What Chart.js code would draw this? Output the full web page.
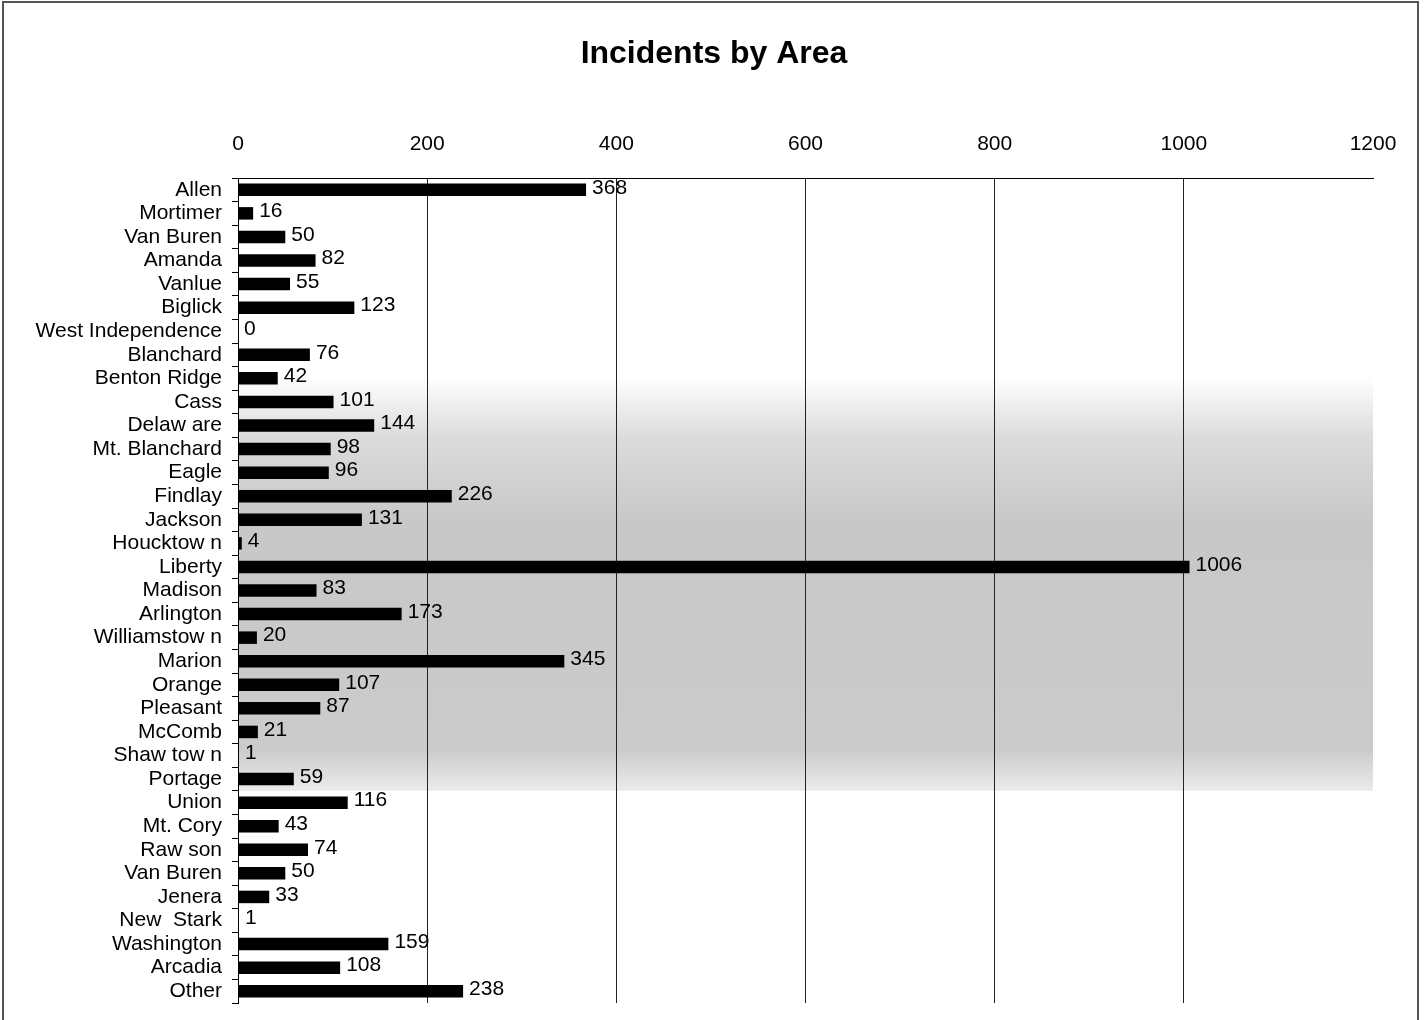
<!DOCTYPE html>
<html>
<head>
<meta charset="utf-8">
<title>Incidents by Area</title>
<script src="https://cdn.jsdelivr.net/npm/chart.js@4"></script>
<style>
    html, body { margin: 0; padding: 0; background: #fff; }
    #wrap { width: 1424px; height: 1020px; position: relative; }
</style>
</head>
<body>
<div id="wrap"><canvas id="chart" width="1424" height="1020"></canvas></div>
<script>
// Areas, top to bottom as in the chart
const areas = [
    'Allen', 'Mortimer', 'Van Buren', 'Amanda', 'Vanlue', 'Biglick',
    'West Independence', 'Blanchard', 'Benton Ridge', 'Cass', 'Delaw are',
    'Mt. Blanchard', 'Eagle', 'Findlay', 'Jackson', 'Houcktow n', 'Liberty',
    'Madison', 'Arlington', 'Williamstow n', 'Marion', 'Orange', 'Pleasant',
    'McComb', 'Shaw tow n', 'Portage', 'Union', 'Mt. Cory', 'Raw son',
    'Van Buren', 'Jenera', 'New  Stark', 'Washington', 'Arcadia', 'Other'
];

const incidents = [
    368, 16, 50, 82, 55, 123,
    0, 76, 42, 101, 144,
    98, 96, 226, 131, 4, 1006,
    83, 173, 20, 345, 107, 87,
    21, 1, 59, 116, 43, 74,
    50, 33, 1, 159, 108, 238
];

const xTicks = [0, 200, 400, 600, 800, 1000, 1200];

const FONT = '"Liberation Sans", Arial, Helvetica, sans-serif';

// outer frame + scanned grey band behind the bars
const backdrop = {
    id: 'backdrop',
    afterLayout(chart) {
        // title sits centred over the whole frame, not over the padded box
        if (chart.titleBlock) chart.titleBlock.left = 55;
    },
    beforeDraw(chart) {
        const { ctx, chartArea, scales } = chart;
        ctx.save();
        ctx.fillStyle = '#fff';
        ctx.fillRect(0, 0, chart.width, chart.height);

        const y = scales.y;
        const top = y.getPixelForValue(7.9);
        const bottom = y.getPixelForValue(25.5);
        const grad = ctx.createLinearGradient(0, top, 0, bottom);
        grad.addColorStop(0, 'rgba(190,190,190,0)');
        grad.addColorStop(0.15, 'rgba(190,190,190,0.55)');
        grad.addColorStop(0.35, 'rgba(190,190,190,0.85)');
        grad.addColorStop(0.9, 'rgba(190,190,190,0.8)');
        grad.addColorStop(1, 'rgba(190,190,190,0.3)');
        ctx.fillStyle = grad;
        ctx.fillRect(chartArea.left, top, chartArea.right - chartArea.left, bottom - top);

        ctx.strokeStyle = '#555';
        ctx.lineWidth = 2;
        ctx.beginPath();
        ctx.moveTo(3, chart.height + 5);
        ctx.lineTo(3, 2);
        ctx.lineTo(1418, 2);
        ctx.lineTo(1418, chart.height + 5);
        ctx.stroke();
        ctx.restore();
    }
};

// value labels at the end of every bar
const barValues = {
    id: 'barValues',
    afterDatasetsDraw(chart) {
        const { ctx } = chart;
        const meta = chart.getDatasetMeta(0);
        ctx.save();
        ctx.font = '21px ' + FONT;
        ctx.fillStyle = '#000';
        ctx.textAlign = 'left';
        ctx.textBaseline = 'middle';
        meta.data.forEach((bar, i) => {
            ctx.fillText(String(incidents[i]), bar.x + 6, bar.y - 2);
        });
        ctx.restore();
    }
};

new Chart(document.getElementById('chart'), {
    type: 'bar',
    data: {
        labels: areas,
        datasets: [{
            data: incidents,
            backgroundColor: '#000',
            borderWidth: 0,
            barPercentage: 0.53,
            categoryPercentage: 1
        }]
    },
    options: {
        indexAxis: 'y',
        responsive: false,
        animation: false,
        layout: {
            padding: { left: 0, right: 51, top: 0, bottom: 17 }
        },
        plugins: {
            legend: { display: false },
            tooltip: { enabled: false },
            title: {
                display: true,
                text: 'Incidents by Area',
                color: '#000',
                font: { family: FONT, size: 32, weight: 'bold' },
                padding: { top: 35, bottom: 16 }
            }
        },
        scales: {
            x: {
                position: 'top',
                min: 0,
                max: 1200,
                afterBuildTicks(scale) {
                    scale.ticks = xTicks.map(v => ({ value: v }));
                },
                afterFit(scale) {
                    scale.height = 88.6;
                    scale.paddingLeft = 0;
                    scale.paddingRight = 0;
                },
                border: { display: true, color: '#000', width: 1 },
                grid: {
                    drawTicks: false,
                    lineWidth: 1,
                    color: ctx => (ctx.tick && (ctx.tick.value === 0 || ctx.tick.value === 1200)) ? 'rgba(0,0,0,0)' : '#222'
                },
                ticks: {
                    color: '#000',
                    padding: 21,
                    maxRotation: 0,
                    callback: v => String(v),
                    font: { family: FONT, size: 21 }
                }
            },
            y: {
                afterFit(scale) {
                    scale.width = 238;
                    scale.paddingTop = 0;
                    scale.paddingBottom = 0;
                },
                border: { display: true, color: '#000', width: 1 },
                grid: {
                    drawOnChartArea: false,
                    drawTicks: true,
                    tickLength: 6,
                    color: '#000'
                },
                ticks: {
                    color: '#000',
                    padding: 10,
                    autoSkip: false,
                    font: { family: FONT, size: 21 }
                }
            }
        }
    },
    plugins: [backdrop, barValues]
});
</script>
</body>
</html>
